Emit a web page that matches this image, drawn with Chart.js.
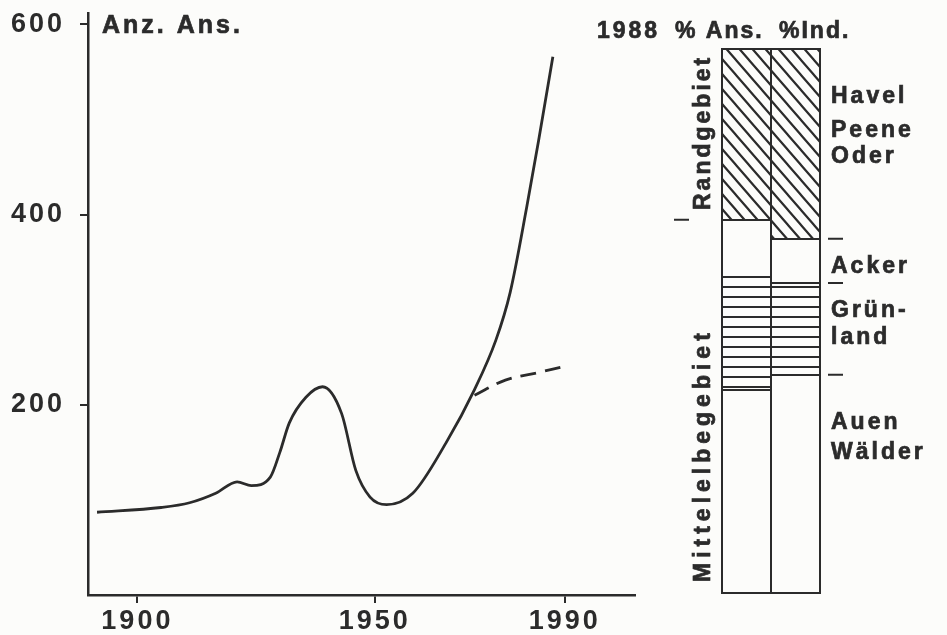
<!DOCTYPE html>
<html>
<head>
<meta charset="utf-8">
<script src="https://cdn.jsdelivr.net/npm/chart.js@4.4.0/dist/chart.umd.min.js"></script>
<style>
html, body { margin: 0; padding: 0; background: #fcfcfa; }
#wrap { position: relative; width: 947px; height: 635px; overflow: hidden; }
#lineChart { position: absolute; left: 0; top: 0; }
#barChart { position: absolute; left: 580px; top: 0; }
</style>
</head>
<body>
<div id="wrap">
  <canvas id="lineChart" width="660" height="635"></canvas>
  <canvas id="barChart" width="367" height="635"></canvas>
</div>
<script>
const FONT = '"Liberation Sans", Arial, Helvetica, sans-serif';
const INK = '#2b2b2b';
const PAPER = '#fcfcfa';

// linke Grafik: Anzahl Ansiedlungen
const years  = [1891.5, 1905, 1911, 1916.5, 1921, 1924, 1928, 1930, 1932, 1935.5, 1939, 1943, 1946, 1949, 1952.5, 1958, 1965, 1971, 1975.5, 1978.5, 1982, 1984.5, 1987.5];
const anzAns = [87, 92, 97, 107, 119, 115, 124, 150, 181, 208, 219, 191, 131, 103, 95, 107, 160, 216, 268, 318, 408, 478, 566];
const trendYears = [1971, 1977.5, 1984.5, 1990.5];
const trendAns   = [210, 226, 234, 241];
const xTicks = [1900, 1950, 1990];
const yTicks = [200, 400, 600];

// rechte Grafik: 1988, Anteile in %
const colLabels   = ['% Ans.', '%Ind.'];
const auenWaelder = [37.3, 40.1];
const gruenland   = [20.8, 16.9];
const acker       = [10.5, 8.1];
const randgebiet  = [31.4, 34.9];

const toXY = (xs, ys) => xs.map((x, i) => ({ x: x, y: ys[i] }));

const spacing = {
    id: 'spacing',
    beforeDraw(chart) { chart.ctx.letterSpacing = '3px'; }
};

function boldText(ctx, t, x, y) {
    ctx.fillText(t, x, y);
    ctx.strokeText(t, x, y);
}

const lineTitle = {
    id: 'lineTitle',
    afterDraw(chart) {
        const ctx = chart.ctx;
        ctx.save();
        ctx.letterSpacing = '3px';
        ctx.fillStyle = INK;
        ctx.strokeStyle = INK;
        ctx.lineWidth = 0.7;
        ctx.font = `bold 25px ${FONT}`;
        ctx.textBaseline = 'alphabetic';
        boldText(ctx, 'Anz. Ans.', 102, 33);
        ctx.restore();
    }
};

const tickFont = { family: FONT, size: 27, weight: 'bold' };

new Chart(document.getElementById('lineChart'), {
    type: 'line',
    data: {
        datasets: [
            { data: toXY(years, anzAns), borderColor: INK, borderWidth: 2.8, pointRadius: 0, cubicInterpolationMode: 'monotone', fill: false },
            { data: toXY(trendYears, trendAns), borderColor: INK, borderWidth: 2.8, borderDash: [16, 9], pointRadius: 0, tension: 0.35, fill: false }
        ]
    },
    options: {
        responsive: false,
        animation: false,
        devicePixelRatio: 1,
        layout: { padding: { left: 0, top: 13, right: 25, bottom: 0 } },
        plugins: { legend: { display: false }, tooltip: { enabled: false } },
        scales: {
            x: {
                type: 'linear', min: 1889.6, max: 2004.8,
                afterBuildTicks: s => { s.ticks = xTicks.map(v => ({ value: v })); },
                afterFit: s => { s.height = 40; s.paddingLeft = 0; s.paddingRight = 0; },
                grid: { drawOnChartArea: false, drawTicks: true, tickLength: 8, color: INK, lineWidth: 2 },
                border: { display: true, color: INK, width: 2.5 },
                ticks: { autoSkip: false, maxRotation: 0, padding: 2, color: INK, font: tickFont, callback: v => String(v) }
            },
            y: {
                min: 0, max: 612,
                afterBuildTicks: s => { s.ticks = yTicks.map(v => ({ value: v })); },
                afterFit: s => { s.width = 88; s.paddingTop = 0; s.paddingBottom = 0; },
                grid: { drawOnChartArea: false, drawTicks: true, tickLength: 8, color: INK, lineWidth: 2 },
                border: { display: true, color: INK, width: 2.5 },
                ticks: { padding: 15, color: INK, font: tickFont, callback: v => String(v) }
            }
        }
    },
    plugins: [spacing, lineTitle]
});

function hatchPattern() {
    const c = document.createElement('canvas');
    c.width = 13; c.height = 15;
    const g = c.getContext('2d');
    g.fillStyle = PAPER; g.fillRect(0, 0, 13, 15);
    g.strokeStyle = INK; g.lineWidth = 2.2;
    g.beginPath();
    g.moveTo(-13, -15); g.lineTo(26, 30);
    g.moveTo(-13, 0); g.lineTo(13, 30);
    g.moveTo(0, -15); g.lineTo(26, 15);
    g.stroke();
    return g.createPattern(c, 'repeat');
}

function stripePattern() {
    const c = document.createElement('canvas');
    c.width = 8; c.height = 10;
    const g = c.getContext('2d');
    g.fillStyle = PAPER; g.fillRect(0, 0, 8, 10);
    g.fillStyle = INK; g.fillRect(0, 6, 8, 2);
    return g.createPattern(c, 'repeat');
}

// Rahmen der Säulenabschnitte
const barFrames = {
    id: 'barFrames',
    afterDatasetsDraw(chart) {
        const ctx = chart.ctx;
        ctx.save();
        ctx.strokeStyle = INK;
        ctx.lineWidth = 2;
        chart.getSortedVisibleDatasetMetas().forEach(meta => {
            meta.data.forEach(bar => {
                const top = Math.min(bar.y, bar.base);
                const h = Math.abs(bar.base - bar.y);
                ctx.strokeRect(Math.round(bar.x - bar.width / 2), Math.round(top), Math.round(bar.width), Math.round(h));
            });
        });
        ctx.restore();
    }
};

const barText = {
    id: 'barText',
    afterDraw(chart) {
        const { ctx, scales: { y } } = chart;
        const X = px => px - 580;
        ctx.save();
        ctx.fillStyle = INK;
        ctx.strokeStyle = INK;
        ctx.lineWidth = 0.7;
        ctx.textBaseline = 'alphabetic';
        ctx.letterSpacing = '3px';
        ctx.font = `bold 23px ${FONT}`;

        boldText(ctx, '1988', X(597), 38);
        ctx.letterSpacing = '2px';
        boldText(ctx, colLabels[0], X(675), 38);
        boldText(ctx, colLabels[1], X(779), 38);
        ctx.letterSpacing = '3px';

        [['Havel', 103], ['Peene', 137], ['Oder', 163], ['Acker', 273], ['Grün-', 317], ['land', 344], ['Auen', 429], ['Wälder', 459]]
            .forEach(([t, by]) => boldText(ctx, t, X(831), by));

        ctx.save();
        ctx.translate(X(710), 210);
        ctx.rotate(-Math.PI / 2);
        boldText(ctx, 'Randgebiet', 0, 0);
        ctx.restore();

        ctx.save();
        ctx.letterSpacing = '5px';
        ctx.translate(X(710), 582);
        ctx.rotate(-Math.PI / 2);
        boldText(ctx, 'Mittelelbegebiet', 0, 0);
        ctx.restore();

        ctx.lineWidth = 2;
        ctx.beginPath();
        const yRand = y.getPixelForValue(100 - randgebiet[0]);
        ctx.moveTo(X(674), yRand); ctx.lineTo(X(689), yRand);
        [auenWaelder[1] + gruenland[1] + acker[1], auenWaelder[1] + gruenland[1], auenWaelder[1]].forEach(v => {
            const py = y.getPixelForValue(v);
            ctx.moveTo(X(828), py); ctx.lineTo(X(843), py);
        });
        ctx.stroke();
        ctx.restore();
    }
};

new Chart(document.getElementById('barChart'), {
    type: 'bar',
    data: {
        labels: colLabels,
        datasets: [
            { label: 'Auen Wälder', data: auenWaelder, backgroundColor: PAPER },
            { label: 'Grünland', data: gruenland, backgroundColor: stripePattern() },
            { label: 'Acker', data: acker, backgroundColor: PAPER },
            { label: 'Havel Peene Oder', data: randgebiet, backgroundColor: hatchPattern() }
        ]
    },
    options: {
        responsive: false,
        animation: false,
        devicePixelRatio: 1,
        layout: { padding: { left: 142, right: 128, top: 49, bottom: 42 } },
        plugins: { legend: { display: false }, tooltip: { enabled: false } },
        datasets: { bar: { barPercentage: 1, categoryPercentage: 1, borderWidth: 0, inflateAmount: 0 } },
        scales: {
            x: { stacked: true, display: false },
            y: { stacked: true, display: false, min: 0, max: 100 }
        }
    },
    plugins: [barFrames, barText]
});
</script>
</body>
</html>
